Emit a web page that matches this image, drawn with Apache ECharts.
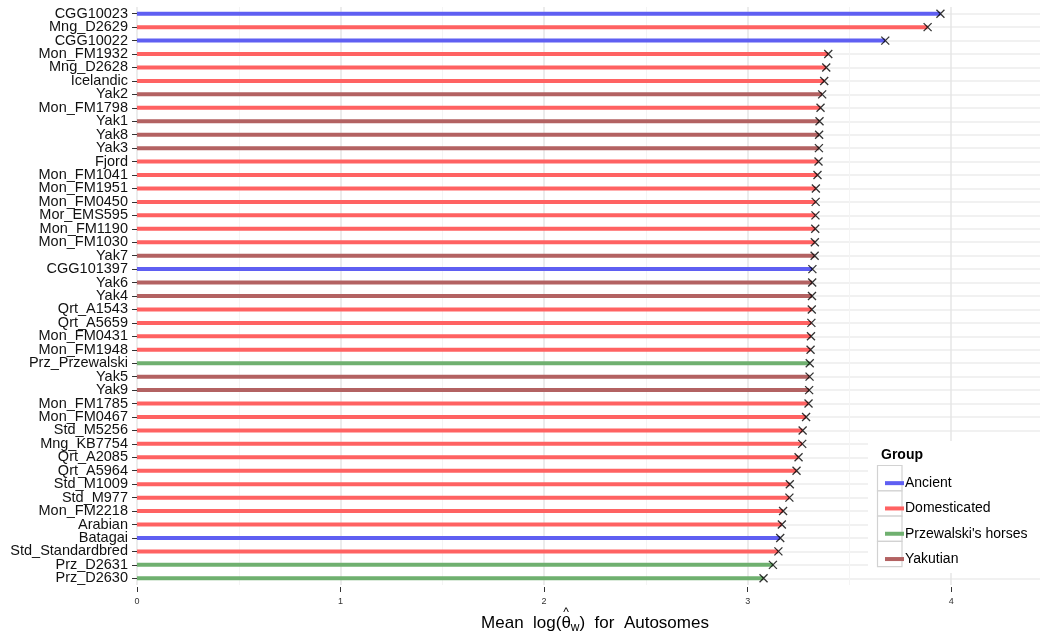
<!DOCTYPE html>
<html><head><meta charset="utf-8">
<script src="https://cdn.jsdelivr.net/npm/echarts@6/dist/echarts.min.js"></script>
<style>html,body{margin:0;padding:0;background:#fff;overflow:hidden}#c{width:1040px;height:637px}</style>
</head><body><div id="c"></div>
<script>
const categories = ["CGG10023","Mng_D2629","CGG10022","Mon_FM1932","Mng_D2628","Icelandic","Yak2","Mon_FM1798","Yak1","Yak8","Yak3","Fjord","Mon_FM1041","Mon_FM1951","Mon_FM0450","Mor_EMS595","Mon_FM1190","Mon_FM1030","Yak7","CGG101397","Yak6","Yak4","Qrt_A1543","Qrt_A5659","Mon_FM0431","Mon_FM1948","Prz_Przewalski","Yak5","Yak9","Mon_FM1785","Mon_FM0467","Std_M5256","Mng_KB7754","Qrt_A2085","Qrt_A5964","Std_M1009","Std_M977","Mon_FM2218","Arabian","Batagai","Std_Standardbred","Prz_D2631","Prz_D2630"];
const groupOf = ["Ancient","Domesticated","Ancient","Domesticated","Domesticated","Domesticated","Yakutian","Domesticated","Yakutian","Yakutian","Yakutian","Domesticated","Domesticated","Domesticated","Domesticated","Domesticated","Domesticated","Domesticated","Yakutian","Ancient","Yakutian","Yakutian","Domesticated","Domesticated","Domesticated","Domesticated","Przewalski's horses","Yakutian","Yakutian","Domesticated","Domesticated","Domesticated","Domesticated","Domesticated","Domesticated","Domesticated","Domesticated","Domesticated","Domesticated","Ancient","Domesticated","Przewalski's horses","Przewalski's horses"];
const values = [3.947,3.884,3.676,3.396,3.386,3.376,3.366,3.358,3.353,3.351,3.350,3.348,3.343,3.335,3.334,3.333,3.332,3.330,3.329,3.318,3.317,3.316,3.315,3.313,3.311,3.309,3.305,3.304,3.302,3.299,3.287,3.270,3.268,3.250,3.240,3.207,3.205,3.174,3.168,3.160,3.151,3.124,3.078];
const groups = ["Ancient","Domesticated","Przewalski's horses","Yakutian"];
const groupColors = ["#5f5ff2","#ff6262","#6fb06f","#b36262"];
const xTicks = [0,1,2,3,4];
const nameParts = ["Mean  log(", "θ", "w", ")  for  Autosomes"];

const FONT = "Liberation Sans, Arial, Helvetica, sans-serif";
const chart = echarts.init(document.getElementById('c'), null, {renderer:'canvas'});

const barSeries = groups.map((g, gi) => ({
  name: g, type: 'bar', barWidth: 4, barGap: '-100%',
  itemStyle: {color: groupColors[gi]},
  data: values.map((v, i) => groupOf[i] === g ? v : null),
  z: 2, silent: true
}));

// layout helpers for the axis title hat
const GL = 137, GR = -13, TS = 17, SS = 12;
const ctx = document.createElement('canvas').getContext('2d');
function tw(t, size){ ctx.font = size + 'px ' + FONT; return ctx.measureText(t).width; }
const wA = tw(nameParts[0],TS), wB = tw(nameParts[1],TS), wC = tw(nameParts[2],SS), wD = tw(nameParts[3],TS);
const nameCenter = (GL + (1040 - GR)) / 2;
const nameStart = nameCenter - (wA + wB + wC + wD) / 2;
const hatX = nameStart + wA + wB / 2;

const legendTop = 465.5, keyH = 25.3;
const graphics = [{
  type: 'rect', shape: {x: 868, y: 441, width: 172, height: 132}, style: {fill: '#fff'}, z: 3
}];
groups.forEach((g, i) => graphics.push({
  type: 'rect', shape: {x: 877.5, y: legendTop + i*keyH, width: 24.5, height: keyH}, style: {fill: '#fff', stroke: '#d2d2d2', lineWidth: 1.2}, z: 4
}));
graphics.push({
  type: 'text', x: hatX, y: 613, z: 10,
  style: {text: '^', fontSize: 12, fontFamily: FONT, fill: '#000', align: 'center', verticalAlign: 'middle'}
});

chart.setOption({
  animation: false,
  textStyle: {fontFamily: FONT},
  title: {text: 'Group', left: 876, top: 443, textStyle: {fontFamily: FONT, fontSize: 14, fontWeight: 'bold', color: '#000'}},
  legend: {
    data: groups, orient: 'vertical', left: 880, top: legendTop + keyH/2 - 8,
    icon: 'rect', itemWidth: 19, itemHeight: 4, itemGap: keyH - 16,
    textStyle: {fontFamily: FONT, fontSize: 14, color: '#000', lineHeight: 16, padding: [0,0,0,-4]},
    z: 10, selectedMode: false
  },
  graphic: graphics,
  grid: {left: GL, right: GR, top: 7, bottom: 52, containLabel: false, outerBoundsMode: 'none'},
  xAxis: {
    type: 'value', min: 0, max: 4.5, interval: 1, offset: 2,
    axisLine: {show: false},
    axisTick: {show: true, length: 5, lineStyle: {color: '#333', width: 1}},
    axisLabel: {fontSize: 9, color: '#333', margin: 10, fontFamily: FONT,
      formatter: v => xTicks.includes(v) ? String(v) : ''},
    splitLine: {show: true, lineStyle: {color: '#e6e6e6', width: 1.5}},
    minorTick: {show: false, splitNumber: 2},
    minorSplitLine: {show: true, lineStyle: {color: '#f4f4f4', width: 1}},
    name: '{a|' + nameParts[0] + '}{b|' + nameParts[1] + '}{c|' + nameParts[2] + '}{a|' + nameParts[3] + '}',
    nameLocation: 'middle', nameGap: 25,
    nameTextStyle: {rich: {
      a: {fontSize: TS, color: '#000', fontFamily: FONT},
      b: {fontSize: TS, color: '#000', fontFamily: FONT},
      c: {fontSize: SS, color: '#000', fontFamily: FONT, padding: [10,0,0,0]}
    }}
  },
  yAxis: {
    type: 'category', data: categories, inverse: true,
    axisLine: {show: false},
    axisTick: {show: true, length: 5, alignWithLabel: true, lineStyle: {color: '#333'}},
    axisLabel: {fontSize: 14.5, color: '#111', margin: 9, interval: 0, fontFamily: FONT},
    splitLine: {show: true, alignWithLabel: true, interval: 0, lineStyle: {color: '#ececec', width: 1.5}}
  },
  series: barSeries.concat([{
    name: 'end', type: 'scatter', symbol: 'path://M0,0L10,10M10,0L0,10', symbolSize: 8,
    itemStyle: {color: 'rgba(0,0,0,0)', borderColor: '#000', borderWidth: 1.3},
    data: values.map((v, i) => [v, categories[i]]), z: 5, silent: true
  }])
});
</script></body></html>
